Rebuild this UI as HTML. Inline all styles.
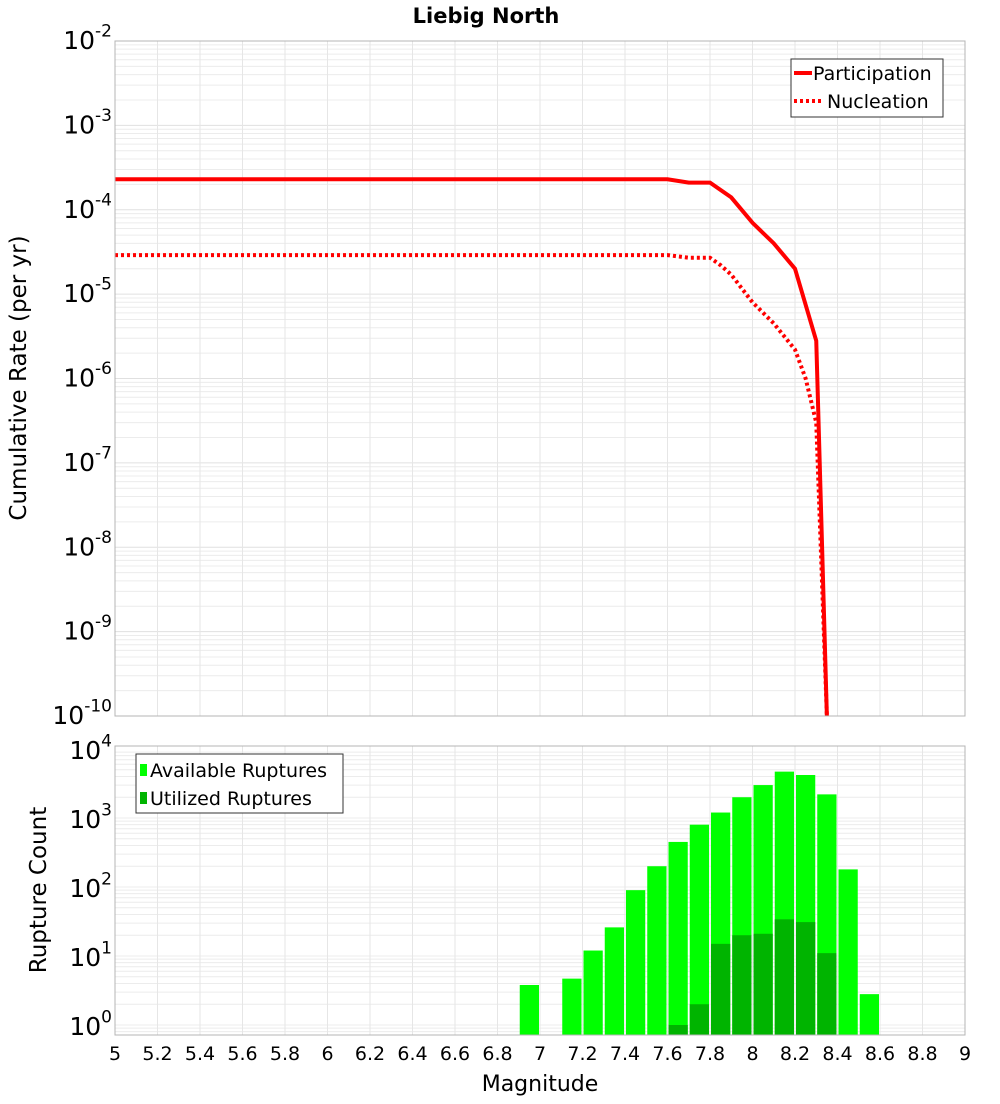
<!DOCTYPE html>
<html><head><meta charset="utf-8"><style>
body{margin:0;background:#fff;font-family:"DejaVu Sans","Liberation Sans",sans-serif}
svg text{font-family:"DejaVu Sans","Liberation Sans",sans-serif}
</style></head><body>
<svg id="c" width="1000" height="1100" xmlns="http://www.w3.org/2000/svg"></svg>
<script>
const magTicks=[5,5.2,5.4,5.6,5.8,6,6.2,6.4,6.6,6.8,7,7.2,7.4,7.6,7.8,8,8.2,8.4,8.6,8.8,9];
const magLabels=["5","5.2","5.4","5.6","5.8","6","6.2","6.4","6.6","6.8","7","7.2","7.4","7.6","7.8","8","8.2","8.4","8.6","8.8","9"];
const partMags=[5,7.6,7.7,7.8,7.9,8.0,8.1,8.2,8.3,8.35];
const partRates=[2.3e-4,2.3e-4,2.1e-4,2.1e-4,1.4e-4,7e-5,4e-5,2e-5,2.8e-6,1e-10];
const nuclMags=[5,7.6,7.7,7.8,7.85,7.9,8.0,8.1,8.2,8.25,8.3,8.35];
const nuclRates=[2.9e-5,2.9e-5,2.7e-5,2.7e-5,2.2e-5,1.7e-5,8e-6,4.5e-6,2.2e-6,1e-6,3e-7,1e-10];
const barMags=[6.9,7.1,7.2,7.3,7.4,7.5,7.6,7.7,7.8,7.9,8.0,8.1,8.2,8.3,8.4,8.5];
const availCounts=[3.8,4.7,12,26,90,200,450,800,1200,2000,3000,4700,4200,2200,180,2.8];
const utilMags=[7.6,7.7,7.8,7.9,8.0,8.1,8.2,8.3];
const utilCounts=[1,2,15,20,21,34,31,11];

const svg=document.getElementById('c');const NS='http://www.w3.org/2000/svg';
function el(t,a,p){const e=document.createElementNS(NS,t);for(const k in a)e.setAttribute(k,a[k]);(p||svg).appendChild(e);return e;}
const X0=115,X1=965;
const x=m=>X0+(m-5)/4*(X1-X0);
const T0=41,T1=716; const yT=v=>T0+(-2-Math.log10(v))/8*(T1-T0);
const B0=746,B1=1035; const pxd=69; const yB=v=>1025-Math.log10(v)*pxd;

// grids
const g=el('g',{});


for(let d=-10;d<-2;d++)for(let k=1;k<10;k++){const yy=yT(k*Math.pow(10,d));el('line',{x1:X0,x2:X1,y1:yy,y2:yy,stroke:k==1?'#e0e0e0':'#ececec','stroke-width':1},g);}
for(let d=-1;d<4;d++)for(let k=1;k<10;k++){const yy=yB(k*Math.pow(10,d));if(yy<B0||yy>B1)continue;el('line',{x1:X0,x2:X1,y1:yy,y2:yy,stroke:'#ececec','stroke-width':1},g);}
magTicks.forEach(m=>{el('line',{x1:x(m),x2:x(m),y1:T0,y2:T1,stroke:'#e6e6e6'},g);el('line',{x1:x(m),x2:x(m),y1:B0,y2:B1,stroke:'#e6e6e6'},g);});

// top lines
function poly(ms,vs,name,dash){const p=el('polyline',{points:ms.map((m,i)=>x(m)+','+Math.min(yT(vs[i]),T1)).join(' '),fill:'none',stroke:'#ff0000','stroke-width':4,'stroke-dasharray':dash||'none'});

}
poly(partMags,partRates,'participation-line');
poly(nuclMags,nuclRates,'nucleation-line','3,3');

// bars
availCounts.forEach((c,i)=>{const m=barMags[i];const r=el('rect',{x:x(m)+1,width:x(m+0.1)-x(m)-2,y:yB(c),height:B1-yB(c),fill:'#00ff00'});

});
utilCounts.forEach((c,i)=>{const m=utilMags[i];const r=el('rect',{x:x(m)+1,width:x(m+0.1)-x(m)-2,y:yB(c),height:B1-yB(c),fill:'#00b400'});

});

// frames
el('rect',{x:X0,y:T0,width:X1-X0,height:T1-T0,fill:'none',stroke:'#b4b4b4'});
el('rect',{x:X0,y:B0,width:X1-X0,height:B1-B0,fill:'none',stroke:'#b4b4b4'});

// y tick labels
function sup(xx,yy,e,sz,name){const t=el('text',{x:xx,y:yy,'text-anchor':'end','font-size':sz,fill:'#000'});
const a=el('tspan',{},t);a.textContent='10';const b=el('tspan',{dy:-sz*0.5,'font-size':sz*0.68},t);b.textContent=e;}
for(let d=-2;d>=-10;d--)sup(112,yT(Math.pow(10,d))+8,String(d),25,'y-tick-label');
for(let d=0;d<=4;d++)sup(112,yB(Math.pow(10,d))+10,String(d),25,'y-tick-label-bottom');
magTicks.forEach((m,i)=>{const t=el('text',{x:x(m),y:1060,'text-anchor':'middle','font-size':19});t.textContent=magLabels[i];});

// titles
function txt(s,a,name){const t=el('text',a);t.textContent=s;return t;}
txt('Liebig North',{x:486,y:23,'text-anchor':'middle','font-size':21,'font-weight':'bold'},'chart-title');
txt('Cumulative Rate (per yr)',{x:26,y:378,'text-anchor':'middle','font-size':23,transform:'rotate(-90 26 378)'},'y-axis-title');
txt('Rupture Count',{x:46,y:890,'text-anchor':'middle','font-size':23,transform:'rotate(-90 46 890)'},'y-axis-title-bottom');
txt('Magnitude',{x:540,y:1091,'text-anchor':'middle','font-size':22},'x-axis-title');

// legends
const l1=el('g',{});
el('rect',{x:791,y:59,width:152,height:58,fill:'#fff',stroke:'#333'},l1);
el('line',{x1:794,x2:812,y1:73,y2:73,stroke:'#f00','stroke-width':4},l1);
el('line',{x1:794,x2:822,y1:101,y2:101,stroke:'#f00','stroke-width':4,'stroke-dasharray':'3,3'},l1);
let t=el('text',{x:813,y:80,'font-size':19},l1);t.textContent='Participation';
t=el('text',{x:827,y:108,'font-size':19},l1);t.textContent='Nucleation';
const l2=el('g',{});
el('rect',{x:136,y:754,width:207,height:59,fill:'#fff',stroke:'#333'},l2);
el('rect',{x:140,y:764,width:7,height:12,fill:'#00ff00'},l2);
el('rect',{x:140,y:792,width:7,height:12,fill:'#00b400'},l2);
t=el('text',{x:150,y:777,'font-size':19},l2);t.textContent='Available Ruptures';
t=el('text',{x:150,y:805,'font-size':19},l2);t.textContent='Utilized Ruptures';
</script>
</body></html>
